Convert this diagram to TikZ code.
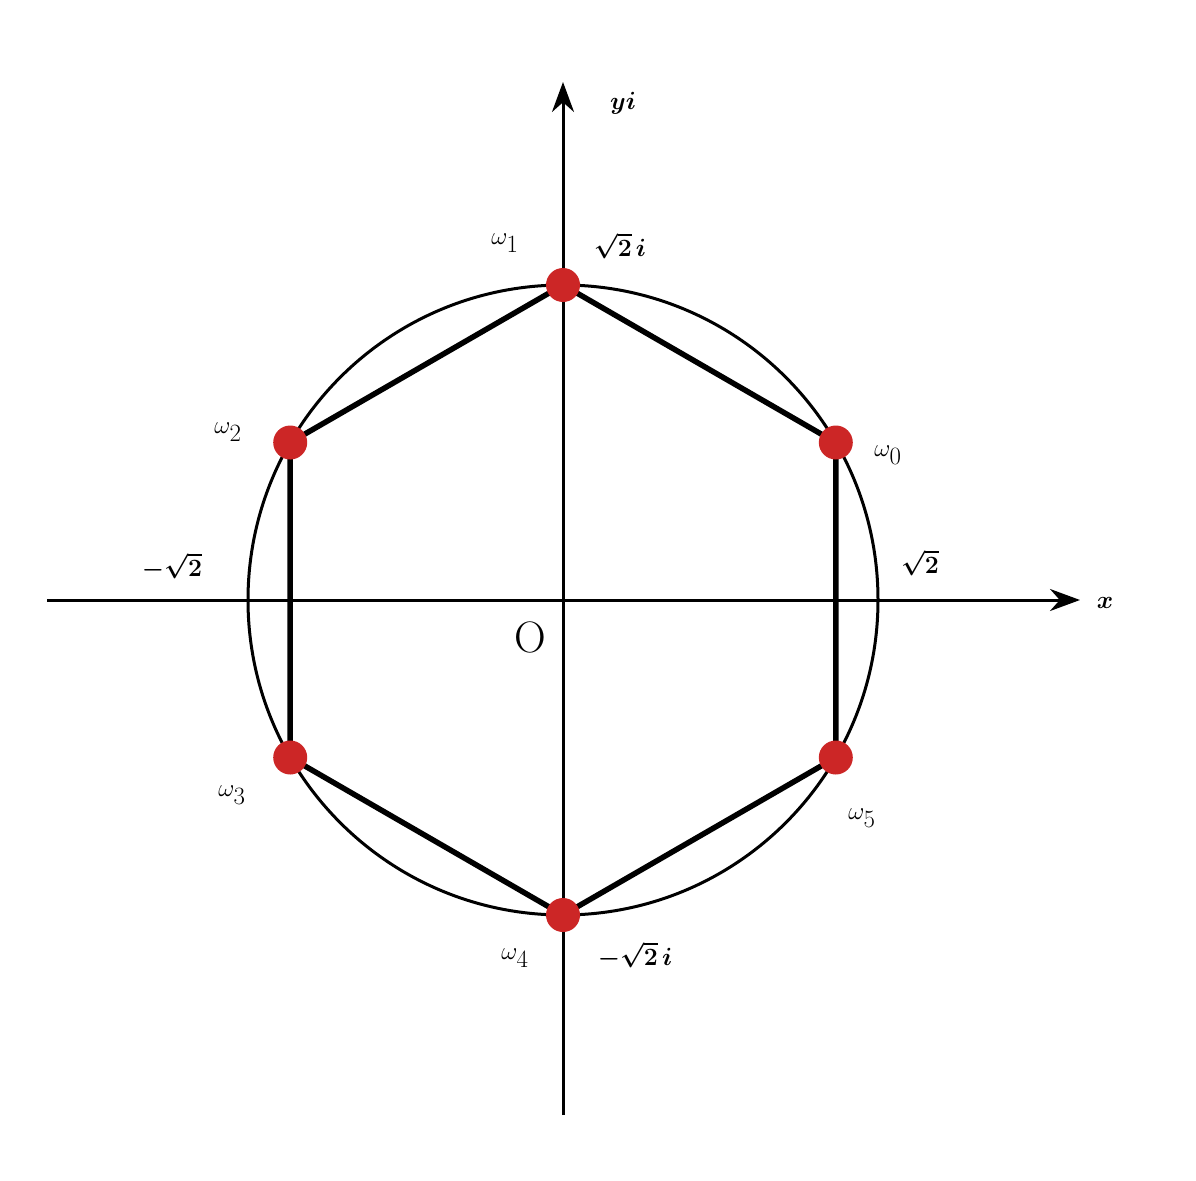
\documentclass[tikz,border=0pt]{standalone}
\usepackage{amsmath,bm}
\usetikzlibrary{arrows.meta,calc}
\begin{document}
\begin{tikzpicture}[x=1pt,y=-1pt,
  axis/.style={line width=3pt,-{Stealth[length=30pt,width=22pt]}},
  side/.style={line width=5.5pt},
  pt/.style={circle,fill=red!75!black!80!pink,inner sep=0pt,minimum size=34pt},
  big/.style={font=\fontsize{44}{50}\selectfont},
  mid/.style={font=\fontsize{32}{38}\selectfont}]
\useasboundingbox (0,0) rectangle (1196,1180);
\coordinate (O) at (563,600);
\coordinate (xs) at (47,600);
\coordinate (xe) at (1080,600);
\coordinate (ys) at (563,1115);
\coordinate (ye) at (563,82);
\draw[axis] (xs) -- (xe);
\draw[axis] (ys) -- (ye);
\draw[line width=3pt] (O) circle (315);
\foreach \i in {0,...,5}{
  \coordinate (w\i) at ($(O)+({315*cos(30+60*\i)},{-315*sin(30+60*\i)})$);
}
\draw[side] (w0)--(w1)--(w2)--(w3)--(w4)--(w5)--cycle;
\foreach \i in {0,...,5}{\node[pt] (p\i) at (w\i) {};}
\node[big] (l0) at (888,455) {$\omega_0$};
\node[big] (l1) at (505,243) {$\omega_1$};
\node[big] (l2) at (228,432) {$\omega_2$};
\node[big] (l3) at (232,795) {$\omega_3$};
\node[big] (l4) at (515,958) {$\omega_4$};
\node[big] (l5) at (862,818) {$\omega_5$};
\node[mid] (a1) at (620,246) {$\bm{\sqrt{2}\,i}$};
\node[mid] (a2) at (635,955) {$\bm{-\sqrt{2}\,i}$};
\node[mid] (a3) at (172,566) {$\bm{-\sqrt{2}}$};
\node[mid] (a4) at (920,563) {$\bm{\sqrt{2}}$};
\node[big] (lo) at (530,637) {O};
\node[big] (lx) at (1105,603) {$\bm{x}$};
\node[big] (ly) at (623,103) {$\bm{yi}$};
\end{tikzpicture}
\end{document}
